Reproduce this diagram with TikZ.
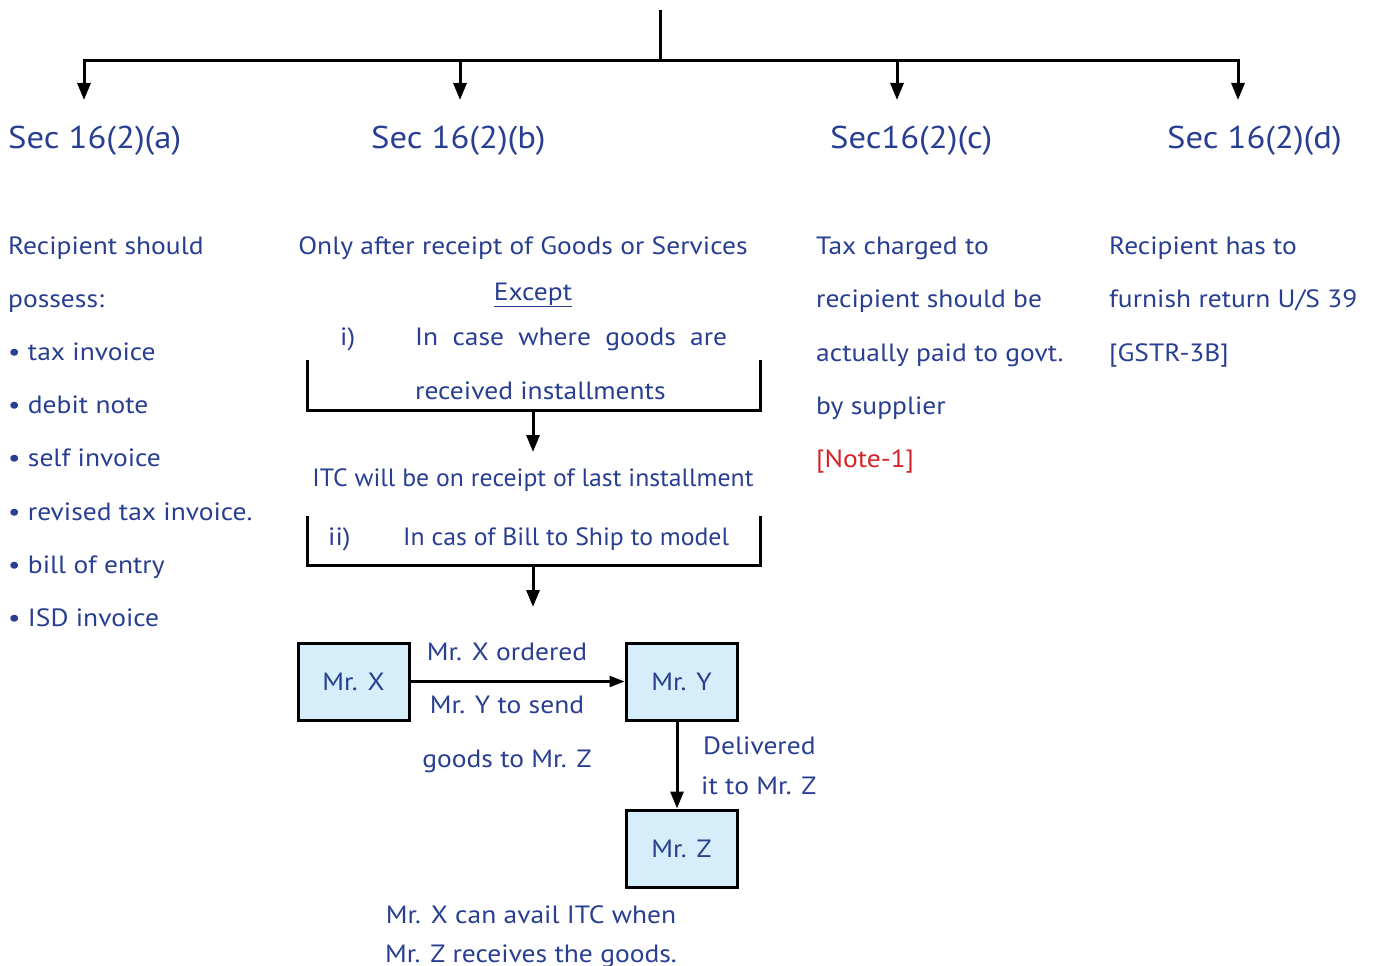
\documentclass[tikz,border=0pt]{standalone}
\usepackage{fontspec}
\setmainfont{PT Sans}[FakeStretch=1.1]
\newfontfamily\condfont{PT Sans}[FakeStretch=1.03]
\usetikzlibrary{arrows.meta,positioning}
\definecolor{txtblue}{RGB}{40,62,145}
\definecolor{notered}{RGB}{214,35,40}
\definecolor{boxfill}{RGB}{213,238,250}
\tikzset{
  body/.style={text=txtblue,font=\fontsize{25}{30}\selectfont,anchor=base west,inner sep=0pt},
  bodyc/.style={body,anchor=base},
  cond/.style={body,font=\condfont\fontsize{25}{30}\selectfont},
  head/.style={text=txtblue,font=\fontsize{31.5}{36}\selectfont,anchor=base west,inner sep=0pt},
  party/.style={draw,line width=3pt,fill=boxfill,minimum width=111pt,minimum height=77pt,
    text=txtblue,font=\fontsize{25}{30}\selectfont},
  link/.style={line width=3pt,-{Triangle[length=17pt,width=13pt]}},
  thinlink/.style={line width=2.2pt,-{Triangle[length=15pt,width=11pt]}},
  rule/.style={line width=3pt},
}
\begin{document}
\begin{tikzpicture}[x=1pt,y=-1pt]
\useasboundingbox (0,0) rectangle (1379,966);
% tree on top
\coordinate (top) at (660,10);
\coordinate (bus) at (660,61);
\coordinate (busa) at (84,61);
\coordinate (busd) at (1238,61);
\draw[rule] (top) -- (bus);
\draw[rule,line cap=rect] (busa) -- (busd);
\foreach \x/\n in {84/a,460/b,897/c,1238/d}{
  \coordinate (in\n) at (\x,61);
  \coordinate (tip\n) at (\x,100);
  \draw[link] (in\n) -- (tip\n);
}
\node[head] (seca) at (8,148) {Sec 16(2)(a)};
\node[head] (secb) at (371,148) {Sec 16(2)(b)};
\node[head] (secc) at (830,148) {Sec16(2)(c)};
\node[head] (secd) at (1167,148) {Sec 16(2)(d)};
% column a
\node[body] (a1) at (8,254) {Recipient should};
\node[body] (a2) at (8,307) {possess:};
\foreach \t [count=\i] in {tax invoice,debit note,self invoice,revised tax invoice.,bill of entry,ISD invoice}
  \node[body] (bul\i) at (8,{307+53.3*\i}) {• \t};
% column c
\node[body] (c1) at (816,254) {Tax charged to};
\node[body] (c2) at (816,307) {recipient should be};
\node[body] (c3) at (816,361) {actually paid to govt.};
\node[body] (c4) at (816,414) {by supplier};
\node[body,text=notered] (c5) at (816,467) {[Note-1]};
% column d
\node[body] (d1) at (1109,254) {Recipient has to};
\node[body] (d2) at (1109,307) {furnish return U/S 39};
\node[body] (d3) at (1109,361) {[GSTR-3B]};
% column b
\node[bodyc] (b1) at (523,254) {Only after receipt of Goods or Services};
\node[bodyc] (b2) at (533,300) {\underline{Except}};
\node[body] (b3) at (340,345) {i)};
\node[body] (b4) at (415,345) {\makebox[312pt][s]{In case where goods are}};
\node[body] (b5) at (415,399) {received installments};
\draw[rule] (307,360) |- (760,410) -- (760,360);
\coordinate (brk1) at (533,410);
\coordinate (itctop) at (533,452);
\draw[link] (brk1) -- (itctop);
\node[cond,anchor=base] (itc) at (533,486) {ITC will be on receipt of last installment};
\node[body] (b6) at (328,545) {ii)};
\node[cond] (b7) at (403,545) {In cas of Bill to Ship to model};
\draw[rule] (307,516) |- (760,565) -- (760,516);
\coordinate (brk2) at (533,565);
\coordinate (boxtop) at (533,607);
\draw[link] (brk2) -- (boxtop);
% bill to ship to
\node[party] (mrx) at (353.5,681.5) {Mr. X};
\node[party] (mry) at (681.5,681.5) {Mr. Y};
\node[party] (mrz) at (681.5,848.5) {Mr. Z};
\draw[thinlink] (mrx.east) -- (mry.west);
\draw[link] ([xshift=-4.5pt]mry.south) -- ([xshift=-4.5pt]mrz.north);
\node[bodyc] (o1) at (507,660) {Mr. X ordered};
\node[bodyc] (o2) at (507,713) {Mr. Y to send};
\node[bodyc] (o3) at (507,767) {goods to Mr. Z};
\node[body] (dl1) at (703,754) {Delivered};
\node[body] (dl2) at (701,794) {it to Mr. Z};
\node[bodyc] (e1) at (531,923) {Mr. X can avail ITC when};
\node[bodyc] (e2) at (531,962) {Mr. Z receives the goods.};
\end{tikzpicture}
\end{document}
